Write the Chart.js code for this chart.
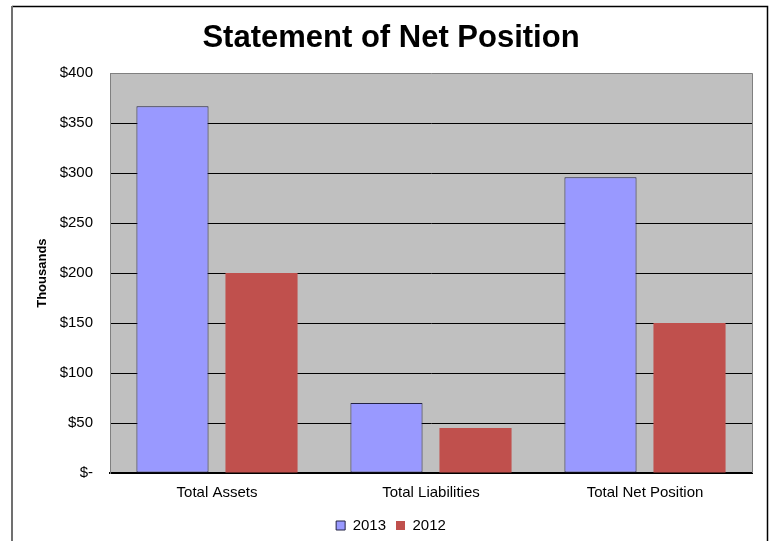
<!DOCTYPE html>
<html>
<head>
<meta charset="utf-8">
<script src="https://cdn.jsdelivr.net/npm/chart.js@4.4.1/dist/chart.umd.min.js"></script>
<style>
  html, body { margin: 0; padding: 0; background: #fff; }
  #wrap { width: 773px; height: 541px; position: relative; }
</style>
</head>
<body>
<div id="wrap"><canvas id="c" width="773" height="541"></canvas></div>
<script>
const categories = ['Total Assets', 'Total Liabilities', 'Total Net Position'];
const seriesNames = ['2013', '2012'];
const values2013 = [367, 70, 296];
const values2012 = [200, 45, 150];
const yTicks = [0, 50, 100, 150, 200, 250, 300, 350, 400];
const chartTitle = 'Statement of Net Position';
const yAxisTitle = 'Thousands';

const FONT = "'Liberation Sans', Arial, sans-serif";

const plotBg = {
  id: 'plotBg',
  beforeDraw(chart) {
    const { ctx, chartArea: a } = chart;
    ctx.save();
    ctx.fillStyle = '#C0C0C0';
    ctx.fillRect(a.left, a.top, a.right - a.left, a.bottom - a.top);
    ctx.restore();
  },
  afterDraw(chart) {
    const { ctx, chartArea: a } = chart;
    ctx.save();
    ctx.strokeStyle = '#808080';
    ctx.lineWidth = 1;
    ctx.beginPath();
    ctx.moveTo(a.right + 0.5, a.top);
    ctx.lineTo(a.right + 0.5, a.bottom);
    ctx.stroke();
    ctx.strokeStyle = '#000';
    ctx.lineWidth = 1.5;
    ctx.beginPath();
    ctx.moveTo(12, 6.5);
    ctx.lineTo(767.5, 6.5);
    ctx.lineTo(767.5, 560);
    ctx.stroke();
    ctx.strokeStyle = '#707070';
    ctx.lineWidth = 2;
    ctx.beginPath();
    ctx.moveTo(12, 6);
    ctx.lineTo(12, 560);
    ctx.stroke();
    ctx.restore();
  }
};

new Chart(document.getElementById('c'), {
  type: 'bar',
  data: {
    labels: categories,
    datasets: [
      {
        label: seriesNames[0],
        data: values2013,
        backgroundColor: '#9999FF',
        borderColor: '#222244',
        borderWidth: 1,
        borderSkipped: false
      },
      {
        label: seriesNames[1],
        data: values2012,
        backgroundColor: '#C0504D',
        borderColor: '#C0504D',
        borderWidth: 0
      }
    ]
  },
  options: {
    responsive: false,
    animation: false,
    devicePixelRatio: 1,
    layout: { padding: { left: 30, right: 21, top: 0, bottom: -2 } },
    datasets: {
      bar: { categoryPercentage: 0.832, barPercentage: 0.81 }
    },
    plugins: {
      title: {
        display: true,
        text: chartTitle,
        color: '#000',
        font: { family: FONT, size: 31, weight: 'bold' },
        padding: { top: 20, bottom: 16 }
      },
      legend: {
        display: true,
        position: 'bottom',
        labels: {
          color: '#000',
          font: { family: FONT, size: 15 },
          boxWidth: 9,
          boxHeight: 9,
          padding: 10
        }
      },
      tooltip: { enabled: false }
    },
    scales: {
      x: {
        grid: { display: false, drawTicks: false },
        border: { display: true, color: '#000', width: 2 },
        ticks: {
          color: '#000',
          font: { family: FONT, size: 15 },
          padding: 11,
          maxRotation: 0
        },
        afterFit(s) { s.height = 35; }
      },
      y: {
        min: 0,
        max: 400,
        afterBuildTicks(s) { s.ticks = yTicks.map(v => ({ value: v })); },
        grid: {
          drawTicks: false,
          color(ctx) {
            const v = ctx.tick && ctx.tick.value;
            if (v === 0) return 'rgba(0,0,0,0)';
            if (v === 400) return '#808080';
            return '#000';
          },
          lineWidth: 1
        },
        border: { display: true, color: '#808080', width: 1 },
        ticks: {
          color: '#000',
          font: { family: FONT, size: 15 },
          padding: 17,
          callback(v) { return v === 0 ? '$-' : '$' + v; }
        },
        title: {
          display: true,
          text: yAxisTitle,
          color: '#000',
          font: { family: FONT, size: 13, weight: 'bold' },
          padding: { top: 5, bottom: 0 }
        },
        afterFit(s) { s.width = 80; }
      }
    }
  },
  plugins: [plotBg]
});
</script>
</body>
</html>
